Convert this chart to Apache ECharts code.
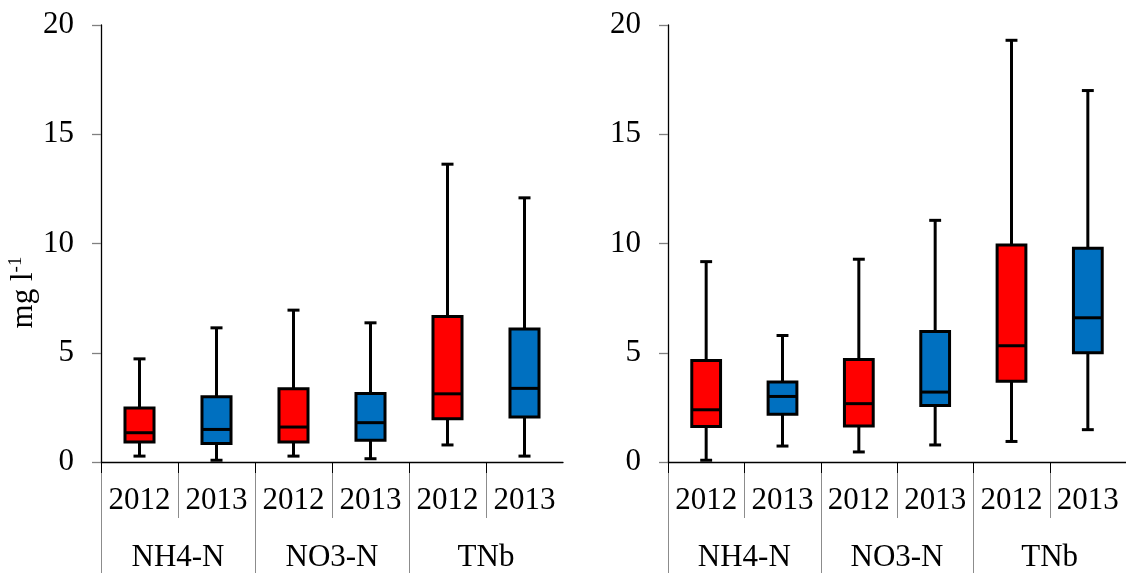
<!DOCTYPE html>
<html>
<head>
<meta charset="utf-8">
<script src="https://cdn.jsdelivr.net/npm/echarts@6/dist/echarts.min.js"></script>
<style>
html,body{margin:0;padding:0;background:#fff;}
#chart{width:1126px;height:573px;}
</style>
</head>
<body>
<div id="chart"></div>
<script>
// Category labels
const years = ['2012', '2013', '2012', '2013', '2012', '2013'];
const groups = ['NH4-N', 'NO3-N', 'TNb'];
// Y axis
const yMin = 0, yMax = 20, yStep = 5;
// Box statistics per category (left panel)
const leftMin    = [0.27, 0.08, 0.27, 0.15, 0.78, 0.27];
const leftQ1     = [0.91, 0.85, 0.91, 1.00, 1.98, 2.06];
const leftMedian = [1.34, 1.49, 1.60, 1.80, 3.12, 3.37];
const leftQ3     = [2.47, 2.99, 3.35, 3.14, 6.66, 6.09];
const leftMax    = [4.72, 6.14, 6.95, 6.37, 13.63, 12.09];
// right panel
const rightMin    = [0.08, 0.73, 0.46, 0.78, 0.94, 1.48];
const rightQ1     = [1.63, 2.19, 1.65, 2.59, 3.69, 5.00];
const rightMedian = [2.39, 3.00, 2.67, 3.20, 5.32, 6.60];
const rightQ3     = [4.65, 3.66, 4.69, 5.97, 9.93, 9.78];
const rightMax    = [9.17, 5.79, 9.28, 11.06, 19.30, 17.00];

const yearColor = { '2012': '#FF0000', '2013': '#0070C0' };
const FONT = "'Liberation Serif', 'Times New Roman', serif";
const FS = 31;

function boxData(mn, q1, md, q3, mx) {
  return years.map((y, i) => [i, mn[i], q1[i], md[i], q3[i], mx[i]]);
}

function renderBox(params, api) {
  const i = api.value(0);
  const band = api.size([1, 0])[0];
  const bw = band * 0.377;
  const cw = band * 0.156;
  const pMin = api.coord([i, api.value(1)]);
  const pQ1 = api.coord([i, api.value(2)]);
  const pMed = api.coord([i, api.value(3)]);
  const pQ3 = api.coord([i, api.value(4)]);
  const pMax = api.coord([i, api.value(5)]);
  const x = pMin[0];
  const ls = { stroke: '#000', lineWidth: 3, lineCap: 'butt' };
  return {
    type: 'group',
    children: [
      { type: 'line', shape: { x1: x, y1: pMax[1], x2: x, y2: pQ3[1] }, style: ls },
      { type: 'line', shape: { x1: x, y1: pQ1[1], x2: x, y2: pMin[1] }, style: ls },
      { type: 'line', shape: { x1: x - cw / 2, y1: pMax[1], x2: x + cw / 2, y2: pMax[1] }, style: ls },
      { type: 'line', shape: { x1: x - cw / 2, y1: pMin[1], x2: x + cw / 2, y2: pMin[1] }, style: ls },
      { type: 'rect', shape: { x: x - bw / 2, y: pQ3[1], width: bw, height: pQ1[1] - pQ3[1] },
        style: { fill: yearColor[years[i]], stroke: '#000', lineWidth: 3 } },
      { type: 'line', shape: { x1: x - bw / 2, y1: pMed[1], x2: x + bw / 2, y2: pMed[1] }, style: ls }
    ]
  };
}

function renderSep(params, api) {
  const i = api.value(0);
  const band = api.size([1, 0])[0];
  const p = api.coord([i, 0]);
  const x = Math.round(p[0] - band / 2) + 0.5;
  const y0 = p[1];
  const len = (i % 2 === 0) ? 112 : 56;
  return {
    type: 'group',
    children: [
      { type: 'line', shape: { x1: x, y1: y0, x2: x, y2: y0 + len }, style: { stroke: '#8c8c8c', lineWidth: 1 } },
      { type: 'line', shape: { x1: x, y1: y0, x2: x, y2: y0 + 11 }, style: { stroke: '#000', lineWidth: 1 } }
    ]
  };
}

function xAxesFor(gridIndex) {
  return [
    {
      type: 'category', gridIndex: gridIndex, data: years, position: 'bottom',
      axisLine: { show: true, lineStyle: { color: '#000', width: 1.3 } },
      axisTick: { show: false },
      axisLabel: { interval: 0, margin: 23, color: '#000', fontFamily: FONT, fontSize: FS },
      splitLine: { show: false }
    },
    {
      type: 'category', gridIndex: gridIndex, data: groups, position: 'bottom',
      axisLine: { show: false }, axisTick: { show: false },
      axisLabel: { interval: 0, margin: 80, color: '#000', fontFamily: FONT, fontSize: FS },
      splitLine: { show: false }
    }
  ];
}

function yAxisFor(gridIndex, withName) {
  const ax = {
    type: 'value', gridIndex: gridIndex, min: yMin, max: yMax, interval: yStep,
    axisLine: { show: true, lineStyle: { color: '#000', width: 1.3 } },
    axisTick: { show: true, length: 9, lineStyle: { color: '#808080', width: 1.3 } },
    axisLabel: { margin: 27, color: '#000', fontFamily: FONT, fontSize: FS },
    splitLine: { show: false }
  };
  if (withName) {
    ax.name = '{n|mg l}{sup|-1}';
    ax.nameLocation = 'middle';
    ax.nameGap = 50;
    ax.nameRotate = 90;
    ax.nameTextStyle = {
      color: '#000', fontFamily: FONT, fontSize: 31, padding: [0, 98, 0, 0],
      rich: {
        n: { fontFamily: FONT, fontSize: 31, color: '#000', lineHeight: 34 },
        sup: { fontFamily: FONT, fontSize: 19, verticalAlign: 'top', color: '#000', lineHeight: 34, padding: [0, 0, 12, 0] }
      }
    };
  }
  return ax;
}

const chart = echarts.init(document.getElementById('chart'), null, { renderer: 'canvas' });
chart.setOption({
  backgroundColor: '#fff',
  animation: false,
  grid: [
    { left: 101, top: 25, width: 462, height: 438 },
    { left: 668, top: 25, width: 458, height: 438 }
  ],
  xAxis: [].concat(xAxesFor(0), xAxesFor(1)),
  yAxis: [yAxisFor(0, true), yAxisFor(1, false)],
  series: [
    { type: 'custom', xAxisIndex: 0, yAxisIndex: 0, clip: false,
      data: years.map((y, i) => [i]), renderItem: renderSep, silent: true, z: 1 },
    { type: 'custom', xAxisIndex: 2, yAxisIndex: 1, clip: false,
      data: years.map((y, i) => [i]), renderItem: renderSep, silent: true, z: 1 },
    { type: 'custom', xAxisIndex: 0, yAxisIndex: 0,
      data: boxData(leftMin, leftQ1, leftMedian, leftQ3, leftMax), renderItem: renderBox, z: 3 },
    { type: 'custom', xAxisIndex: 2, yAxisIndex: 1,
      data: boxData(rightMin, rightQ1, rightMedian, rightQ3, rightMax), renderItem: renderBox, z: 3 }
  ]
});
</script>
</body>
</html>
